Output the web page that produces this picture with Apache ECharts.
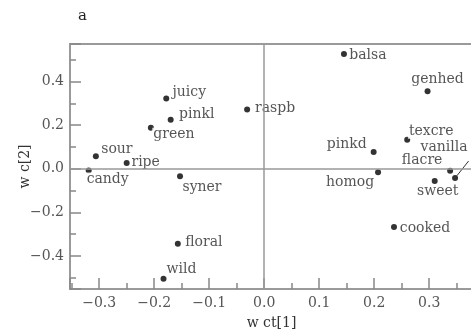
<!DOCTYPE html>
<html>
<head>
<meta charset="utf-8">
<script src="https://cdn.jsdelivr.net/npm/echarts@6/dist/echarts.min.js"></script>
<style>html,body{margin:0;padding:0;background:#fff;}#c{width:471px;height:332px;}</style>
</head>
<body>
<div id="c"></div>
<script>
const names = ['balsa','genhed','raspb','texcre','vanilla','flacre','pinkd','homog','sweet','cooked','juicy','pinkl','green','sour','ripe','candy','syner','floral','wild'];
const xVals = [0.145,0.297,-0.031,0.260,0.347,0.338,0.199,0.207,0.310,0.236,-0.178,-0.170,-0.206,-0.306,-0.250,-0.319,-0.153,-0.157,-0.183];
const yVals = [0.526,0.355,0.271,0.133,-0.043,-0.009,0.077,-0.016,-0.057,-0.267,0.322,0.225,0.188,0.057,0.026,-0.008,-0.035,-0.344,-0.505];
const title = 'a';
const xName = 'w ct[1]';
const yName = 'w c[2]';

// label placement (pixel offsets of label centre from the point)
const labelOffsets = {
  balsa:[24,1], genhed:[10,-12], raspb:[28,-1], texcre:[24,-8], vanilla:[-11,-31],
  flacre:[-28,-10], pinkd:[-27,-8], homog:[-28,10], sweet:[3,10], cooked:[31,1],
  juicy:[23,-6], pinkl:[26,-5], green:[23,7], sour:[21,-7], ripe:[19,-1],
  candy:[19,9], syner:[22,11], floral:[26,-1], wild:[18,-9]
};

const serif = '"DejaVu Serif", serif';
const fmt = v => Math.abs(v) < 1e-9 ? '0.0' : (v < 0 ? '\u2212' : '') + Math.abs(v).toFixed(1);

const data = names.map((n, i) => ({
  name: n,
  value: [xVals[i], yVals[i]],
  label: { offset: labelOffsets[n] },
  labelLine: n === 'vanilla' ? { show: true, lineStyle: { color: '#333', width: 1 } } : undefined
}));

const chart = echarts.init(document.getElementById('c'), null, { renderer: 'canvas' });
chart.setOption({
  animation: false,
  backgroundColor: '#fff',
  title: { text: title, left: 73, top: 4, textStyle: { fontFamily: serif, fontSize: 15, fontWeight: 'normal', color: '#222' } },
  grid: { left: 70, right: -2, top: 44, bottom: 43, show: true, borderColor: '#9a9a9a', borderWidth: 2, outerBoundsMode: 'none', containLabel: false },
  xAxis: {
    type: 'value', min: -0.353, max: 0.3796, splitNumber: 7,
    name: xName, nameLocation: 'middle', nameGap: 27, nameMoveOverlap: false,
    nameTextStyle: { fontFamily: serif, fontSize: 14, color: '#333' },
    axisLine: { show: false, onZero: false },
    axisTick: { show: true, inside: true, length: 11, lineStyle: { color: '#888', width: 1.5 } },
    minorTick: { show: true, splitNumber: 2, length: 6, lineStyle: { color: '#888', width: 1.5 } },
    splitLine: { show: false },
    axisLabel: { showMinLabel: false, showMaxLabel: false, margin: 7, formatter: fmt, fontFamily: serif, fontSize: 14, color: '#555' }
  },
  yAxis: {
    type: 'value', min: -0.552, max: 0.572, splitNumber: 5,
    name: yName, nameLocation: 'middle', nameGap: 38, nameMoveOverlap: false,
    nameTextStyle: { fontFamily: serif, fontSize: 14, color: '#333' },
    axisLine: { show: false, onZero: false },
    axisTick: { show: true, inside: true, length: 11, lineStyle: { color: '#888', width: 1.5 } },
    minorTick: { show: true, splitNumber: 2, length: 6, lineStyle: { color: '#888', width: 1.5 } },
    splitLine: { show: false },
    axisLabel: { showMinLabel: false, showMaxLabel: false, margin: 6, formatter: fmt, fontFamily: serif, fontSize: 14, color: '#555' }
  },
  series: [
    {
      type: 'scatter', z: 1, data: [], silent: true,
      markLine: {
        silent: true, symbol: 'none', label: { show: false },
        lineStyle: { color: '#999', width: 1.5, type: 'solid' },
        data: [{ xAxis: 0 }, { yAxis: 0 }]
      }
    },
    {
      type: 'scatter', z: 3,
      symbol: 'circle', symbolSize: 6,
      itemStyle: { color: '#000' },
      label: {
        show: true, position: 'inside', formatter: '{b}',
        fontFamily: serif, fontSize: 14, color: '#2a2a2a',
        backgroundColor: '#fff', padding: [0, 1]
      },
      labelLine: { show: false },
      data: data
    }
  ]
});
</script>
</body>
</html>
